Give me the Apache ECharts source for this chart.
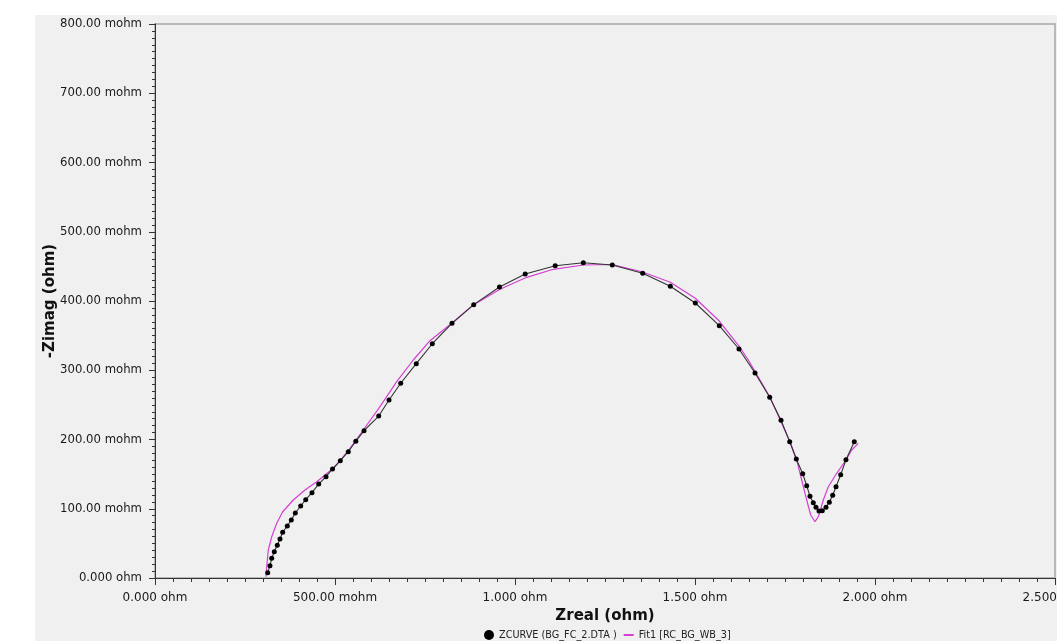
<!DOCTYPE html>
<html>
<head>
<meta charset="utf-8">
<script src="https://cdn.jsdelivr.net/npm/echarts@6/dist/echarts.min.js"></script>
<style>
html,body{margin:0;padding:0;background:#ffffff;}
#chart{width:1057px;height:641px;}
</style>
</head>
<body>
<div id="chart"></div>
<script>
// ZCURVE measured points (ohm)
var zReal = [0.3131,0.3194,0.3242,0.3314,0.3397,0.3472,0.3547,0.3675,0.3786,0.3897,0.4047,0.4186,0.4361,0.4547,0.4750,0.4931,0.5147,0.5369,0.5578,0.5806,0.6214,0.6500,0.6825,0.7258,0.7703,0.8250,0.8853,0.9569,1.0283,1.1117,1.1897,1.2703,1.3547,1.4314,1.5008,1.5675,1.6222,1.6667,1.7075,1.7389,1.7631,1.7814,1.7992,1.8103,1.8194,1.8286,1.8361,1.8444,1.8536,1.8639,1.8731,1.8825,1.8917,1.9047,1.9194,1.9425];
var zImag = [0.0077,0.0178,0.0284,0.0380,0.0472,0.0563,0.0660,0.0751,0.0838,0.0939,0.1040,0.1131,0.1232,0.1357,0.1463,0.1574,0.1694,0.1824,0.1974,0.2127,0.2339,0.2570,0.2812,0.3095,0.3383,0.3678,0.3947,0.4202,0.4390,0.4510,0.4553,0.4520,0.4400,0.4212,0.3971,0.3643,0.3307,0.2960,0.2609,0.2277,0.1968,0.1718,0.1506,0.1333,0.1180,0.1087,0.1021,0.0968,0.0972,0.1021,0.1093,0.1194,0.1318,0.1492,0.1708,0.1968];
// Fit1 curve (ohm)
var fitReal = [0.3083,0.3103,0.3147,0.3242,0.3381,0.3547,0.3842,0.4167,0.4492,0.4722,0.4953,0.5139,0.5361,0.5786,0.6250,0.6714,0.7175,0.7639,0.8242,0.8842,0.9583,1.0325,1.1064,1.1897,1.2703,1.3547,1.4314,1.5008,1.5675,1.6222,1.6481,1.6806,1.7075,1.7639,1.7825,1.7964,1.8103,1.8214,1.8333,1.8425,1.8564,1.8703,1.8936,1.9194,1.9353,1.9536];
var fitImag = [0.0019,0.0163,0.0404,0.0596,0.0790,0.0957,0.1126,0.1271,0.1391,0.1487,0.1584,0.1690,0.1834,0.2137,0.2474,0.2835,0.3148,0.3427,0.3678,0.3942,0.4169,0.4342,0.4458,0.4520,0.4527,0.4419,0.4270,0.4039,0.3711,0.3350,0.3148,0.2859,0.2618,0.1968,0.1704,0.1415,0.1126,0.0910,0.0813,0.0885,0.1126,0.1318,0.1512,0.1704,0.1848,0.1945];
var seriesNames = ['ZCURVE (BG_FC_2.DTA )', 'Fit1 [RC_BG_WB_3]'];

function pairs(xs, ys){ var out=[]; for(var i=0;i<xs.length;i++){ out.push([xs[i], ys[i]]); } return out; }
function fmtX(v){ if(v===0) return '0.000 ohm'; if(v<1) return (v*1000).toFixed(2)+' mohm'; return v.toFixed(3)+' ohm'; }
function fmtY(v){ if(v===0) return '0.000 ohm'; return (v*1000).toFixed(2)+' mohm'; }

var FONT = 'DejaVu Sans';
var chart = echarts.init(document.getElementById('chart'), null, {renderer:'canvas'});
chart.setOption({
  backgroundColor: '#ffffff',
  animation: false,
  graphic: [{
    type: 'rect', left: 35, top: 15, z: -10, silent: true,
    shape: {width: 1022, height: 626},
    style: {fill: '#f0f0f0'}
  }],
  grid: {
    left: 155, right: 2, top: 24, bottom: 63,
    outerBoundsMode: 'none', containLabel: false,
    show: true, borderColor: '#a6a6a6', borderWidth: 1.5, backgroundColor: 'transparent'
  },
  legend: {
    left: 479, top: 625,
    itemWidth: 10, itemHeight: 10, itemGap: 7,
    textStyle: {fontFamily: FONT, fontSize: 9.7, color: '#222'},
    data: [
      {name: seriesNames[0], icon: 'circle', itemStyle: {color: '#000'}},
      {name: seriesNames[1], icon: 'path://M0,4H10V6H0Z', itemStyle: {color: '#d43fd4'}}
    ]
  },
  xAxis: {
    type: 'value', min: 0, max: 2.5, interval: 0.5,
    offset: 3,
    name: 'Zreal (ohm)', nameLocation: 'middle', nameGap: 25,
    nameTextStyle: {fontFamily: FONT, fontSize: 15, fontWeight: 'bold', color: '#111'},
    axisLine: {show: true, lineStyle: {color: '#333', width: 1}},
    axisTick: {show: true, inside: false, length: 7, lineStyle: {color: '#333'}},
    minorTick: {show: true, splitNumber: 10, length: 4, lineStyle: {color: '#333'}},
    splitLine: {show: false},
    axisLabel: {formatter: fmtX, fontFamily: FONT, fontSize: 12, color: '#1a1a1a', margin: 11, showMinLabel: true, showMaxLabel: true, hideOverlap: false}
  },
  yAxis: {
    type: 'value', min: 0, max: 0.8, interval: 0.1,
    offset: 3,
    name: '-Zimag (ohm)', nameLocation: 'middle', nameGap: 94, nameRotate: 90, nameMoveOverlap: false,
    nameTextStyle: {fontFamily: FONT, fontSize: 15, fontWeight: 'bold', color: '#111'},
    axisLine: {show: true, lineStyle: {color: '#333', width: 1}},
    axisTick: {show: true, inside: false, length: 6, lineStyle: {color: '#333'}},
    minorTick: {show: true, splitNumber: 10, length: 3, lineStyle: {color: '#333'}},
    splitLine: {show: false},
    axisLabel: {formatter: fmtY, fontFamily: FONT, fontSize: 11.7, color: '#1a1a1a', margin: 10, showMinLabel: true, showMaxLabel: true}
  },
  series: [
    {
      name: seriesNames[0], type: 'line', data: pairs(zReal, zImag),
      symbol: 'circle', symbolSize: 5, showAllSymbol: true,
      itemStyle: {color: '#000'},
      lineStyle: {color: '#333', width: 1.1},
      z: 3
    },
    {
      name: seriesNames[1], type: 'line', data: pairs(fitReal, fitImag),
      symbol: 'none', smooth: false,
      itemStyle: {color: '#d43fd4'},
      lineStyle: {color: '#d43fd4', width: 1.2},
      z: 2
    }
  ]
});
</script>
</body>
</html>
